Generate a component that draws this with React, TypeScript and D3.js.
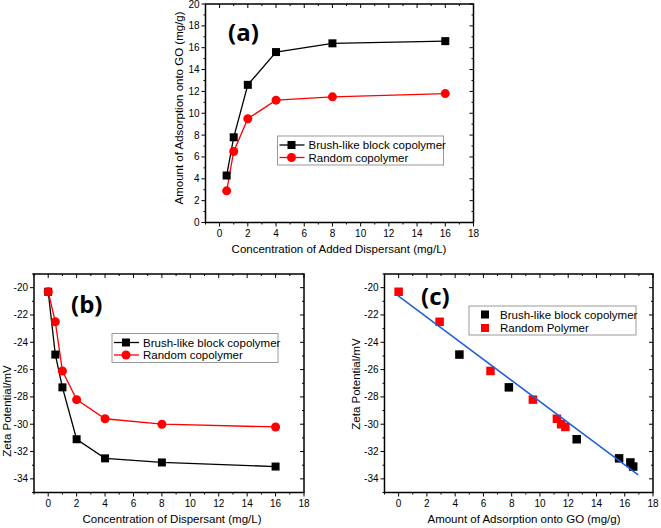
import * as d3 from "d3";

// panel (a): adsorption vs added dispersant
const concA = [0.5, 1, 2, 4, 8, 16];
const brushAdsorb = [4.3, 7.8, 12.6, 15.6, 16.4, 16.6];
const randomAdsorb = [2.9, 6.5, 9.5, 11.2, 11.5, 11.8];

// panel (b): zeta potential vs dispersant
const concB = [0, 0.5, 1, 2, 4, 8, 16];
const brushZeta = [-20.3, -24.9, -27.3, -31.1, -32.5, -32.8, -33.1];
const randomZeta = [-20.3, -22.5, -26.1, -28.2, -29.6, -30.0, -30.2];

// panel (c): zeta vs adsorbed amount, with a linear fit
const brushAdsC = [4.3, 7.8, 12.6, 15.6, 16.4, 16.6];
const brushZetaC = [-24.9, -27.3, -31.1, -32.5, -32.8, -33.1];
const randomAdsC = [0, 2.9, 6.5, 9.5, 11.2, 11.5, 11.8];
const randomZetaC = [-20.3, -22.5, -26.1, -28.2, -29.6, -30.0, -30.2];
const fitX = [-0.1, 16.95];
const fitIntercept = -20.62;
const fitSlope = -0.772;

const xTicks = [0, 2, 4, 6, 8, 10, 12, 14, 16, 18];
const yTicksA = [0, 2, 4, 6, 8, 10, 12, 14, 16, 18, 20];
const yTicksZ = [-20, -22, -24, -26, -28, -30, -32, -34];

const FONT = "'Liberation Sans', Arial, sans-serif";
const RED = "#ff0000";
const BLUE = "#1f5fd8";

interface Frame {
    left: number;
    right: number;
    top: number;
    bottom: number;
}

function Axes({ f, x, y, yTicks, xTitle, yTitle, yTitleX, yTitleY, xTitleX }: {
    f: Frame;
    x: d3.ScaleLinear<number, number>;
    y: d3.ScaleLinear<number, number>;
    yTicks: number[];
    xTitle: string;
    yTitle: string;
    yTitleX: number;
    yTitleY: number;
    xTitleX: number;
}) {
    const xMinor = xTicks.slice(0, -1).map((t) => t + 1).concat([-1]);
    const yMinor = yTicks.map((t) => t + (yTicks[1] > yTicks[0] ? 1 : -1)).filter((t) => t > y.domain()[0] && t < y.domain()[1]);
    if (yTicks[0] < 0) yMinor.push(-19, -35);
    return (
        <g>
            <rect x={f.left} y={f.top} width={f.right - f.left} height={f.bottom - f.top} fill="none" stroke="#000" strokeWidth={1.5} />
            {xTicks.map((t) => (
                <g key={"x" + t}>
                    <line x1={x(t)} x2={x(t)} y1={f.bottom} y2={f.bottom + 4} stroke="#000" />
                    <line x1={x(t)} x2={x(t)} y1={f.top} y2={f.top + 4} stroke="#000" />
                    <text x={x(t)} y={f.bottom + 14} textAnchor="middle" fontSize={10} fontFamily={FONT}>{t}</text>
                </g>
            ))}
            {xMinor.map((t) => (
                <g key={"xm" + t}>
                    <line x1={x(t)} x2={x(t)} y1={f.bottom} y2={f.bottom + 2} stroke="#000" />
                    <line x1={x(t)} x2={x(t)} y1={f.top} y2={f.top + 2} stroke="#000" />
                </g>
            ))}
            {yTicks.map((t) => (
                <g key={"y" + t}>
                    <line x1={f.left - 4} x2={f.left} y1={y(t)} y2={y(t)} stroke="#000" />
                    <line x1={f.right - 4} x2={f.right} y1={y(t)} y2={y(t)} stroke="#000" />
                    <text x={f.left - 6} y={y(t) + 3.5} textAnchor="end" fontSize={10} fontFamily={FONT}>{t}</text>
                </g>
            ))}
            {yMinor.map((t) => (
                <g key={"ym" + t}>
                    <line x1={f.left - 2} x2={f.left} y1={y(t)} y2={y(t)} stroke="#000" />
                    <line x1={f.right - 2} x2={f.right} y1={y(t)} y2={y(t)} stroke="#000" />
                </g>
            ))}
            <text x={xTitleX} y={f.bottom + 30} textAnchor="middle" fontSize={11.5} fontFamily={FONT}>{xTitle}</text>
            <text transform={`translate(${yTitleX},${yTitleY}) rotate(-90)`} textAnchor="middle" fontSize={11.5} fontFamily={FONT}>{yTitle}</text>
        </g>
    );
}

function Square({ cx, cy, s, fill }: { cx: number; cy: number; s: number; fill: string }) {
    return <rect x={cx - s / 2} y={cy - s / 2} width={s} height={s} fill={fill} />;
}

function LineLegend({ x0, y0, w, labels }: { x0: number; y0: number; w: number; labels: string[] }) {
    return (
        <g fontFamily={FONT} fontSize={11.5}>
            <rect x={x0} y={y0} width={w} height={29} fill="#fff" stroke="#999" />
            <line x1={x0 + 2} x2={x0 + 27} y1={y0 + 9} y2={y0 + 9} stroke="#000" strokeWidth={1.3} />
            <Square cx={x0 + 14} cy={y0 + 9} s={8} fill="#000" />
            <text x={x0 + 31} y={y0 + 13}>{labels[0]}</text>
            <line x1={x0 + 2} x2={x0 + 27} y1={y0 + 21.5} y2={y0 + 21.5} stroke={RED} strokeWidth={1.3} />
            <circle cx={x0 + 14} cy={y0 + 21.5} r={4.5} fill={RED} />
            <text x={x0 + 31} y={y0 + 25.5}>{labels[1]}</text>
        </g>
    );
}

export default function App() {
    const fA: Frame = { left: 205.5, right: 473.5, top: 4, bottom: 222.5 };
    const fB: Frame = { left: 34, right: 304, top: 274, bottom: 492.5 };
    const fC: Frame = { left: 384.5, right: 653, top: 274, bottom: 492.5 };

    const xA = d3.scaleLinear().domain([-1, 18]).range([fA.left, fA.right]);
    const yA = d3.scaleLinear().domain([0, 20]).range([fA.bottom, fA.top]);
    const xB = d3.scaleLinear().domain([-1, 18]).range([fB.left, fB.right]);
    const yB = d3.scaleLinear().domain([-35, -19]).range([fB.bottom, fB.top]);
    const xC = d3.scaleLinear().domain([-1, 18]).range([fC.left, fC.right]);
    const yC = d3.scaleLinear().domain([-35, -19]).range([fC.bottom, fC.top]);

    const lineA = d3.line<number>().x((_, i) => xA(concA[i])).y((d) => yA(d));
    const lineB = d3.line<number>().x((_, i) => xB(concB[i])).y((d) => yB(d));

    return (
        <svg width={661} height={528} style={{ position: "absolute", left: 0, top: 0 }}>
            <rect width={661} height={528} fill="#fff" />

            {/* (a) */}
            <Axes f={fA} x={xA} y={yA} yTicks={yTicksA} xTitle="Concentration of Added Dispersant (mg/L)" yTitle="Amount of Adsorption onto GO (mg/g)" yTitleX={183} yTitleY={108} xTitleX={339} />
            <path d={lineA(brushAdsorb) ?? ""} fill="none" stroke="#000" strokeWidth={1.3} />
            <path d={lineA(randomAdsorb) ?? ""} fill="none" stroke={RED} strokeWidth={1.3} />
            {brushAdsorb.map((v, i) => <Square key={"ab" + i} cx={xA(concA[i])} cy={yA(v)} s={8} fill="#000" />)}
            {randomAdsorb.map((v, i) => <circle key={"ar" + i} cx={xA(concA[i])} cy={yA(v)} r={4.5} fill={RED} />)}
            <LineLegend x0={277.5} y0={136} w={166} labels={["Brush-like block copolymer", "Random copolymer"]} />
            <text x={228} y={41} fontFamily="'Open Sans', sans-serif" fontWeight="bold" fontSize={24}>(a)</text>

            {/* (b) */}
            <Axes f={fB} x={xB} y={yB} yTicks={yTicksZ} xTitle="Concentration of Dispersant (mg/L)" yTitle="Zeta Potential/mV" yTitleX={11} yTitleY={411} xTitleX={172} />
            <path d={lineB(brushZeta) ?? ""} fill="none" stroke="#000" strokeWidth={1.3} />
            <path d={lineB(randomZeta) ?? ""} fill="none" stroke={RED} strokeWidth={1.3} />
            {brushZeta.map((v, i) => <Square key={"bb" + i} cx={xB(concB[i])} cy={yB(v)} s={8} fill="#000" />)}
            {randomZeta.map((v, i) => <circle key={"br" + i} cx={xB(concB[i])} cy={yB(v)} r={4.5} fill={RED} />)}
            <LineLegend x0={112} y0={333.5} w={166} labels={["Brush-like block copolymer", "Random copolymer"]} />
            <text x={71} y={313} fontFamily="'Open Sans', sans-serif" fontWeight="bold" fontSize={24}>(b)</text>

            {/* (c) */}
            <Axes f={fC} x={xC} y={yC} yTicks={yTicksZ} xTitle="Amount of Adsorption onto GO (mg/g)" yTitle="Zeta Potential/mV" yTitleX={360} yTitleY={384} xTitleX={524} />
            {brushZetaC.map((v, i) => <Square key={"cb" + i} cx={xC(brushAdsC[i])} cy={yC(v)} s={8.5} fill="#000" />)}
            {randomZetaC.map((v, i) => <Square key={"cr" + i} cx={xC(randomAdsC[i])} cy={yC(v)} s={8.5} fill={RED} />)}
            <line x1={xC(fitX[0])} x2={xC(fitX[1])} y1={yC(fitIntercept + fitSlope * fitX[0])} y2={yC(fitIntercept + fitSlope * fitX[1])} stroke={BLUE} strokeWidth={1.5} />
            <g fontFamily={FONT} fontSize={11.5}>
                <rect x={469} y={306} width={167} height={29} fill="#fff" stroke="#999" />
                <Square cx={485} cy={314.5} s={8} fill="#000" />
                <text x={500} y={318.5}>Brush-like block copolymer</text>
                <Square cx={485} cy={328} s={8} fill={RED} />
                <text x={500} y={332}>Random Polymer</text>
            </g>
            <text x={421} y={305} fontFamily="'Open Sans', sans-serif" fontWeight="bold" fontSize={24}>(c)</text>
        </svg>
    );
}
